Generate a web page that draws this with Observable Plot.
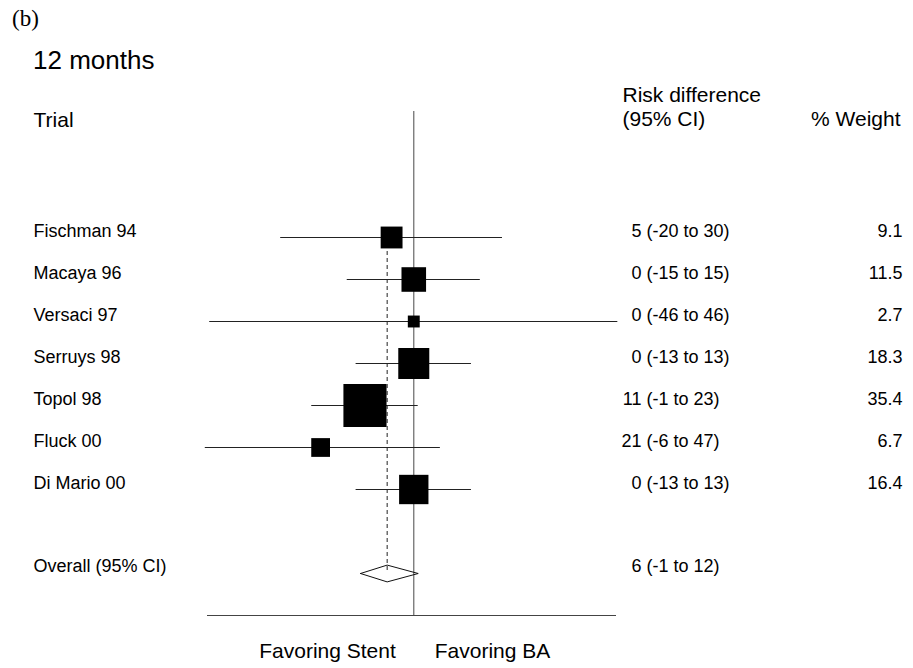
<!DOCTYPE html>
<html><head><meta charset="utf-8">
<script src="https://cdn.jsdelivr.net/npm/d3@7"></script>
<script src="https://cdn.jsdelivr.net/npm/@observablehq/plot@0.6"></script>
<style>
body{margin:0;background:#fff;width:913px;height:668px;position:relative;overflow:hidden;}
#panel{position:absolute;left:12px;top:7px;font:23px "Liberation Serif";line-height:1;color:#000;}
#title{position:absolute;left:33px;top:47px;font:26px "Liberation Sans";line-height:1;color:#000;}
#chart{position:absolute;left:0;top:80px;}
</style></head><body>
<div id="panel">(b)</div><div id="title">12 months</div><div id="chart"></div>
<script>
const trials = ["Fischman 94","Macaya 96","Versaci 97","Serruys 98","Topol 98","Fluck 00","Di Mario 00"];
const estimates = [5, 0, 0, 0, 11, 21, 0];
const lowers = [-20, -15, -46, -13, -1, -6, -13];
const uppers = [30, 15, 46, 13, 23, 47, 13];
const weights = [9.1, 11.5, 2.7, 18.3, 35.4, 6.7, 16.4];
const overallLabel = "Overall (95% CI)";
const overallEstimate = 6;
const overallLower = -1;
const overallUpper = 12;
const headerTrial = "Trial";
const headerRD = ["Risk difference", "(95% CI)"];
const headerWeight = "% Weight";
const favorLeft = "Favoring Stent";
const favorRight = "Favoring BA";

const rows = trials.map((t, i) => ({trial: t, est: estimates[i], lo: lowers[i], hi: uppers[i], w: weights[i], row: i}));
const oRow = trials.length + 1;
const overallRow = [{label: overallLabel, est: overallEstimate, lo: overallLower, hi: overallUpper, row: oRow}];
const dh = 0.2;
const diamond = [
  [overallUpper, oRow], [overallEstimate, oRow - dh], [overallLower, oRow],
  [overallEstimate, oRow + dh], [overallUpper, oRow]
];
const font = "Liberation Sans";
const fs = 18;
const hs = 21;
const W = 913, H = 588, ML = 207, MR = 297;

const chart = Plot.plot({
  width: W, height: H,
  marginLeft: ML, marginRight: MR, marginTop: 31, marginBottom: 53,
  style: {fontFamily: font, overflow: "visible", background: "transparent"},
  x: {domain: [46.5, -45.7], axis: null},
  y: {domain: [-3, 9], reverse: true, axis: null},
  r: {type: "sqrt", domain: [0, 100], range: [0, 40.9]},
  marks: [
    Plot.ruleY([9], {stroke: "#444", strokeWidth: 1}),
    Plot.ruleX([0], {y1: -3, y2: 9, stroke: "#666", strokeWidth: 1.2}),
    Plot.ruleX([overallEstimate], {y1: 0, y2: oRow, stroke: "#222", strokeWidth: 1, strokeDasharray: "4,3"}),
    Plot.ruleY(rows, {y: "row", x1: "lo", x2: "hi", stroke: "#222", strokeWidth: 1}),
    Plot.dot(rows, {x: "est", y: "row", r: "w", symbol: "square", fill: "#000", stroke: "none"}),
    Plot.line(diamond, {x: d => d[0], y: d => d[1], stroke: "#111", strokeWidth: 1}),
    // trial labels
    Plot.text(rows, {y: "row", text: "trial", frameAnchor: "left", dx: 33 - ML, dy: -6, textAnchor: "start", fontSize: fs, fill: "#000"}),
    Plot.text(overallRow, {y: "row", text: "label", frameAnchor: "left", dx: 33 - ML, dy: -7, textAnchor: "start", fontSize: fs, fill: "#000"}),
    // estimates and CI
    Plot.text(rows, {y: "row", text: d => String(d.est), frameAnchor: "left", dx: 641 - ML, dy: -6, textAnchor: "end", fontSize: fs, fill: "#000"}),
    Plot.text(rows, {y: "row", text: d => `(${d.lo} to ${d.hi})`, frameAnchor: "left", dx: 646 - ML, dy: -6, textAnchor: "start", fontSize: fs, fill: "#000"}),
    Plot.text(overallRow, {y: "row", text: d => String(d.est), frameAnchor: "left", dx: 641 - ML, dy: -7, textAnchor: "end", fontSize: fs, fill: "#000"}),
    Plot.text(overallRow, {y: "row", text: d => `(${d.lo} to ${d.hi})`, frameAnchor: "left", dx: 646 - ML, dy: -7, textAnchor: "start", fontSize: fs, fill: "#000"}),
    // weights
    Plot.text(rows, {y: "row", text: d => d.w.toFixed(1), frameAnchor: "right", dx: 902 - (W - MR), dy: -6, textAnchor: "end", fontSize: fs, fill: "#000"}),
    // headers
    Plot.text([headerTrial], {y: [-2.8], text: d => d, frameAnchor: "left", dx: 33 - ML, textAnchor: "start", fontSize: hs, fill: "#000"}),
    Plot.text(headerRD, {y: (d, i) => -3.38 + i * 0.57, text: d => d, frameAnchor: "left", dx: 622 - ML, textAnchor: "start", fontSize: hs, fill: "#000"}),
    Plot.text([headerWeight], {y: [-2.81], text: d => d, frameAnchor: "right", dx: 900 - (W - MR), textAnchor: "end", fontSize: hs, fill: "#000"}),
    // favoring labels
    Plot.text([favorLeft], {x: [0], y: [9.85], text: d => d, dx: -18, textAnchor: "end", fontSize: hs, fill: "#000"}),
    Plot.text([favorRight], {x: [0], y: [9.85], text: d => d, dx: 21, textAnchor: "start", fontSize: hs, fill: "#000"})
  ]
});
document.getElementById("chart").appendChild(chart);
</script>
</body></html>
